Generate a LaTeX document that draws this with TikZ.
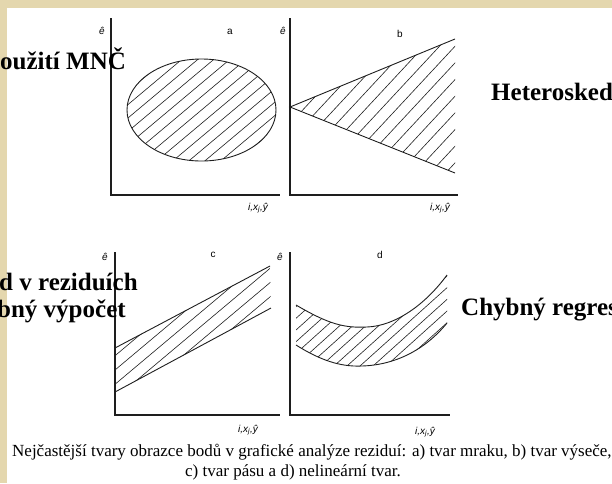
\documentclass[tikz,border=0pt]{standalone}
\usepackage{fontspec}
\setmainfont{Liberation Serif}
\newfontfamily\axfont{Liberation Sans}
\definecolor{beige}{RGB}{228,215,174}
\definecolor{ink}{RGB}{30,30,30}
\begin{document}
\begin{tikzpicture}[x=1pt,y=-1pt,
  axisline/.style={line width=1.1pt,draw=ink},
  outline/.style={line width=0.9pt,draw=ink},
  hatch/.style={line width=0.6pt,draw=ink},
  biglabel/.style={font=\fontsize{25}{28}\selectfont\bfseries,inner sep=0pt,anchor=base west},
  panlabel/.style={font=\axfont\fontsize{10}{11}\selectfont,inner sep=0pt},
  axlabel/.style={font=\axfont\itshape\fontsize{10}{11}\selectfont,inner sep=0pt},
  captext/.style={font=\fontsize{17}{19}\selectfont,inner sep=0pt}]
\useasboundingbox (0,0) rectangle (612,483);
\clip (0,0) rectangle (612,483);
\fill[white] (0,0) rectangle (612,483);
\fill[beige] (0,0) rectangle (612,8);
\fill[beige] (0,0) rectangle (7,483);

% ---------- panel a ----------
\coordinate (aO) at (111,195);
\coordinate (aY) at (111,18);
\coordinate (aX) at (280,195);
\draw[axisline] (aY) -- (aO) -- (aX);
\begin{scope}
  \clip (201.5,110) ellipse [x radius=74.5, y radius=51];
  \foreach \k in {-8,...,8}
    \draw[hatch] (201.5+\k*16-90,110+75.5) -- ++(180,-151);
\end{scope}
\draw[outline] (201.5,110) ellipse [x radius=74.5, y radius=51];
\node[axlabel] (aE) at (102,31) {ê};
\node[panlabel] (aL) at (230,32) {a};
\node[axlabel] (aXL) at (258,208) {i,x\textsubscript{j},ŷ};

% ---------- panel b ----------
\coordinate (bO) at (290,195);
\coordinate (bY) at (290,18);
\coordinate (bX) at (458,195);
\draw[axisline] (bY) -- (bO) -- (bX);
\coordinate (bA) at (290,107);
\coordinate (bU) at (455,39);
\coordinate (bD) at (455,173);
\begin{scope}
  \clip (bA) -- (bU) -- (bD) -- cycle;
  \foreach \k in {-2,...,17}
    \draw[hatch] (290+\k*15.5-80,107+86) -- ++(160,-172);
\end{scope}
\draw[outline] (bU) -- (bA) -- (bD);
\node[axlabel] (bE) at (283,31) {ê};
\node[panlabel] (bL) at (400,34) {b};
\node[axlabel] (bXL) at (440,208) {i,x\textsubscript{j},ŷ};

% ---------- panel c ----------
\coordinate (cO) at (115,415);
\coordinate (cY) at (115,252);
\coordinate (cX) at (280,415);
\draw[axisline] (cY) -- (cO) -- (cX);
\coordinate (cU1) at (115,348);
\coordinate (cU2) at (270,266);
\coordinate (cD1) at (115,392);
\coordinate (cD2) at (271,308);
\begin{scope}
  \clip (cU1) -- (cU2) -- (cD2) -- (cD1) -- cycle;
  \foreach \k in {-4,...,14}
    \draw[hatch] (115+\k*17-150,370+126) -- ++(300,-252);
\end{scope}
\draw[outline] (cU1) -- (cU2);
\draw[outline] (cD1) -- (cD2);
\node[axlabel] (cE) at (105,257) {ê};
\node[panlabel] (cL) at (213,255) {c};
\node[axlabel] (cXL) at (248,430) {i,x\textsubscript{j},ŷ};

% ---------- panel d ----------
\coordinate (dO) at (290,415);
\coordinate (dY) at (290,252);
\coordinate (dX) at (450,415);
\draw[axisline] (dY) -- (dO) -- (dX);
\begin{scope}
  \clip (296,305) .. controls (330,325) and (345,328) .. (367,327)
        .. controls (395,326) and (425,305) .. (447,275)
        -- (447,323) .. controls (425,350) and (395,365) .. (362,366)
        .. controls (340,367) and (320,360) .. (296,345) -- cycle;
  \foreach \k in {-4,...,18}
    \draw[hatch] (296+\k*13-150,330+135) -- ++(300,-270);
\end{scope}
\draw[outline] (296,305) .. controls (330,325) and (345,328) .. (367,327)
        .. controls (395,326) and (425,305) .. (447,275);
\draw[outline] (296,345) .. controls (320,360) and (340,367) .. (362,366)
        .. controls (395,365) and (425,350) .. (447,323);
\node[axlabel] (dE) at (280,257) {ê};
\node[panlabel] (dL) at (380,255) {d};
\node[axlabel] (dXL) at (425,432) {i,x\textsubscript{j},ŷ};

% ---------- big labels ----------
\node[biglabel] (t1) at (0,69) {oužití MNČ};
\node[biglabel] (t2) at (491,100) {Heteroskedasticita};
\node[biglabel] (t3) at (-1,290) {d v reziduích};
\node[biglabel] (t4) at (-3,317) {bný výpočet};
\node[biglabel] (t5) at (461,315) {Chybný regresní model};

% ---------- caption ----------
\node[captext,anchor=base west] (cap1) at (12,456)
  {Nejčastější tvary obrazce bodů v grafické analýze reziduí: a) tvar mraku, b) tvar výseče,};
\node[captext,anchor=base] (cap2) at (293,476)
  {c) tvar pásu a d) nelineární tvar.};
\end{tikzpicture}
\end{document}
